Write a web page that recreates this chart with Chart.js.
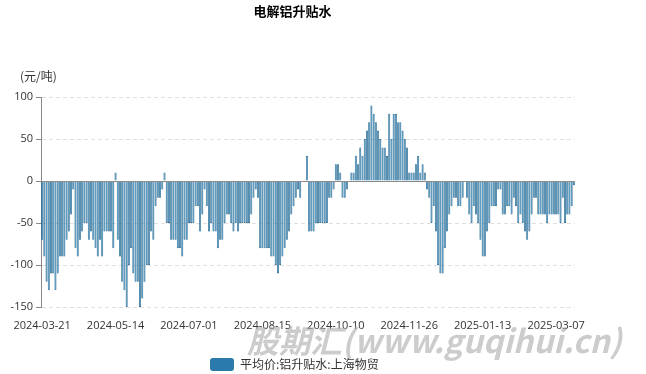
<!DOCTYPE html>
<html>
<head>
<meta charset="utf-8">
<script src="https://cdn.jsdelivr.net/npm/chart.js@4.4.1/dist/chart.umd.min.js"></script>
<style>
  html, body { margin: 0; padding: 0; background: #fff; }
  #wrap { position: relative; width: 646px; height: 374px; overflow: hidden; }
  #title { position: absolute; left: 0; top: 1px; width: 585px; text-align: center;
           font: bold 13px "Noto Sans CJK SC"; color: #000; }
  #unit { position: absolute; left: 20px; top: 67px; font: 12px "Noto Sans CJK SC"; color: #333; }
  #mark { position: absolute; left: 247px; top: 316px; font: italic bold 32px "Noto Sans CJK SC";
          color: rgba(170,170,170,0.6); white-space: nowrap; pointer-events: none;
          transform: scaleX(0.99); transform-origin: left top; }
  #legend { position: absolute; left: 210px; top: 355px; font: 12px "Noto Sans CJK SC"; color: #333;
            white-space: nowrap; }
  #legend i { display: inline-block; width: 24px; height: 13px; border-radius: 3px; background: #2a7aab;
              vertical-align: -2px; margin-right: 6px; }
</style>
</head>
<body>
<div id="wrap">
  <canvas id="chart" width="646" height="374"></canvas>
  <div id="title">电解铝升贴水</div>
  <div id="unit">(元/吨)</div>
  <div id="mark">股期汇(www.guqihui.cn)</div>
  <div id="legend"><i></i>平均价:铝升贴水:上海物贸</div>
</div>
<script>
// trading days start here, weekends and these exchange holidays skipped
const startDate = '2024-03-21';
const dayCount = 240;
const holidays = ['2024-04-04', '2024-04-05', '2024-05-01', '2024-05-02', '2024-05-03', '2024-06-10',
  '2024-09-16', '2024-09-17', '2024-10-01', '2024-10-02', '2024-10-03', '2024-10-04', '2024-10-07',
  '2025-01-01', '2025-01-28', '2025-01-29', '2025-01-30', '2025-01-31', '2025-02-03', '2025-02-04'];
const labelStep = 33;
const yTicks = [-150, -100, -50, 0, 50, 100];
const seriesName = '平均价:铝升贴水:上海物贸';

// 元/吨
const premium = [
  -70, -90, -120, -130, -110, -110, -130, -110, -90, -90, -90, -70, -60, -40, -10, -80, -90, -70, -60, -50,
  -50, -70, -60, -70, -80, -90, -70, -90, -60, -60, -60, -60, -80, 10, -70, -90, -120, -130, -150, -100,
  -80, -110, -120, -120, -150, -140, -120, -100, -100, -60, -70, -30, -20, -20, -10, 10, -50, -50, -70, -70,
  -70, -80, -80, -90, -70, -70, -50, -50, -50, -30, -30, -60, -40, -10, -30, -60, -50, -60, -60, -80,
  -70, -70, -50, -40, -40, -50, -60, -50, -60, -50, -50, -50, -50, -50, -40, -20, -10, -20, -80, -80,
  -80, -80, -80, -90, -90, -100, -110, -100, -90, -80, -70, -60, -40, -30, -20, -10, -20, null, null, 30,
  -60, -60, -60, -50, -50, -50, -50, -50, -50, -20, -20, -10, 20, 20, 10, -20, -20, -10, null, 10,
  10, 30, 20, 40, 30, 50, 60, 70, 90, 80, 70, 60, 50, 40, 40, 30, 80, 50, 80, 80,
  70, 70, 60, 50, 40, 10, 10, 10, 20, 30, 10, 20, 10, -10, -20, -50, -30, -60, -100, -110,
  -110, -80, -60, -40, -30, -20, -20, -30, -30, -20, null, -20, -40, -50, -30, -40, -50, -70, -90, -90,
  -60, -50, -30, -30, -30, -10, -10, -40, -40, -30, -30, -40, -20, -30, -50, -40, -50, -60, -70, -60,
  -40, -20, -20, -40, -40, -40, -40, -50, -40, -40, -40, -40, -40, -50, -20, -50, -40, -40, -30, -5
];

function tradingDays(start, n, skip) {
  const out = [];
  const d = new Date(start + 'T00:00:00Z');
  while (out.length < n) {
    const s = d.toISOString().slice(0, 10);
    const wd = d.getUTCDay();
    if (wd !== 0 && wd !== 6 && !skip.includes(s)) out.push(s);
    d.setUTCDate(d.getUTCDate() + 1);
  }
  return out;
}

const dates = tradingDays(startDate, dayCount, holidays);

const zeroLine = {
  id: 'zeroLine',
  afterDatasetsDraw(chart) {
    const { ctx, chartArea, scales: { y } } = chart;
    const yy = Math.round(y.getPixelForValue(0)) + 0.5;
    ctx.save();
    ctx.strokeStyle = '#8c8c8c';
    ctx.lineWidth = 1;
    ctx.beginPath();
    ctx.moveTo(chartArea.left, yy);
    ctx.lineTo(chartArea.right, yy);
    ctx.stroke();
    ctx.restore();
  }
};

const tickFont = { family: 'Open Sans', size: 11 };

new Chart(document.getElementById('chart').getContext('2d'), {
  type: 'bar',
  data: {
    labels: dates,
    datasets: [{
      label: seriesName,
      data: premium,
      backgroundColor: '#3385b5',
      borderColor: '#1f6089',
      borderWidth: 0.7,
      barPercentage: 0.92,
      categoryPercentage: 1
    }]
  },
  options: {
    responsive: false,
    animation: false,
    layout: { padding: { top: 97, right: 71, bottom: 43, left: 0 } },
    plugins: {
      legend: { display: false },
      title: { display: false },
      tooltip: { enabled: false }
    },
    scales: {
      x: {
        grid: { display: false },
        border: { display: false },
        ticks: {
          autoSkip: false,
          maxRotation: 0,
          padding: 4,
          color: '#333',
          font: tickFont,
          callback: (v, i) => (i % labelStep === 0 ? dates[i] : null)
        },
        afterFit: s => { s.height = 24; }
      },
      y: {
        min: yTicks[0],
        max: yTicks[yTicks.length - 1],
        afterBuildTicks: s => { s.ticks = yTicks.map(v => ({ value: v })); },
        ticks: { color: '#333', font: tickFont, padding: 3 },
        grid: { color: '#e0e0e0', tickColor: '#888', tickLength: 5 },
        border: { display: true, color: '#888', width: 1, dash: [4, 3] },
        afterFit: s => { s.width = 41; }
      }
    }
  },
  plugins: [zeroLine]
});
</script>
</body>
</html>
